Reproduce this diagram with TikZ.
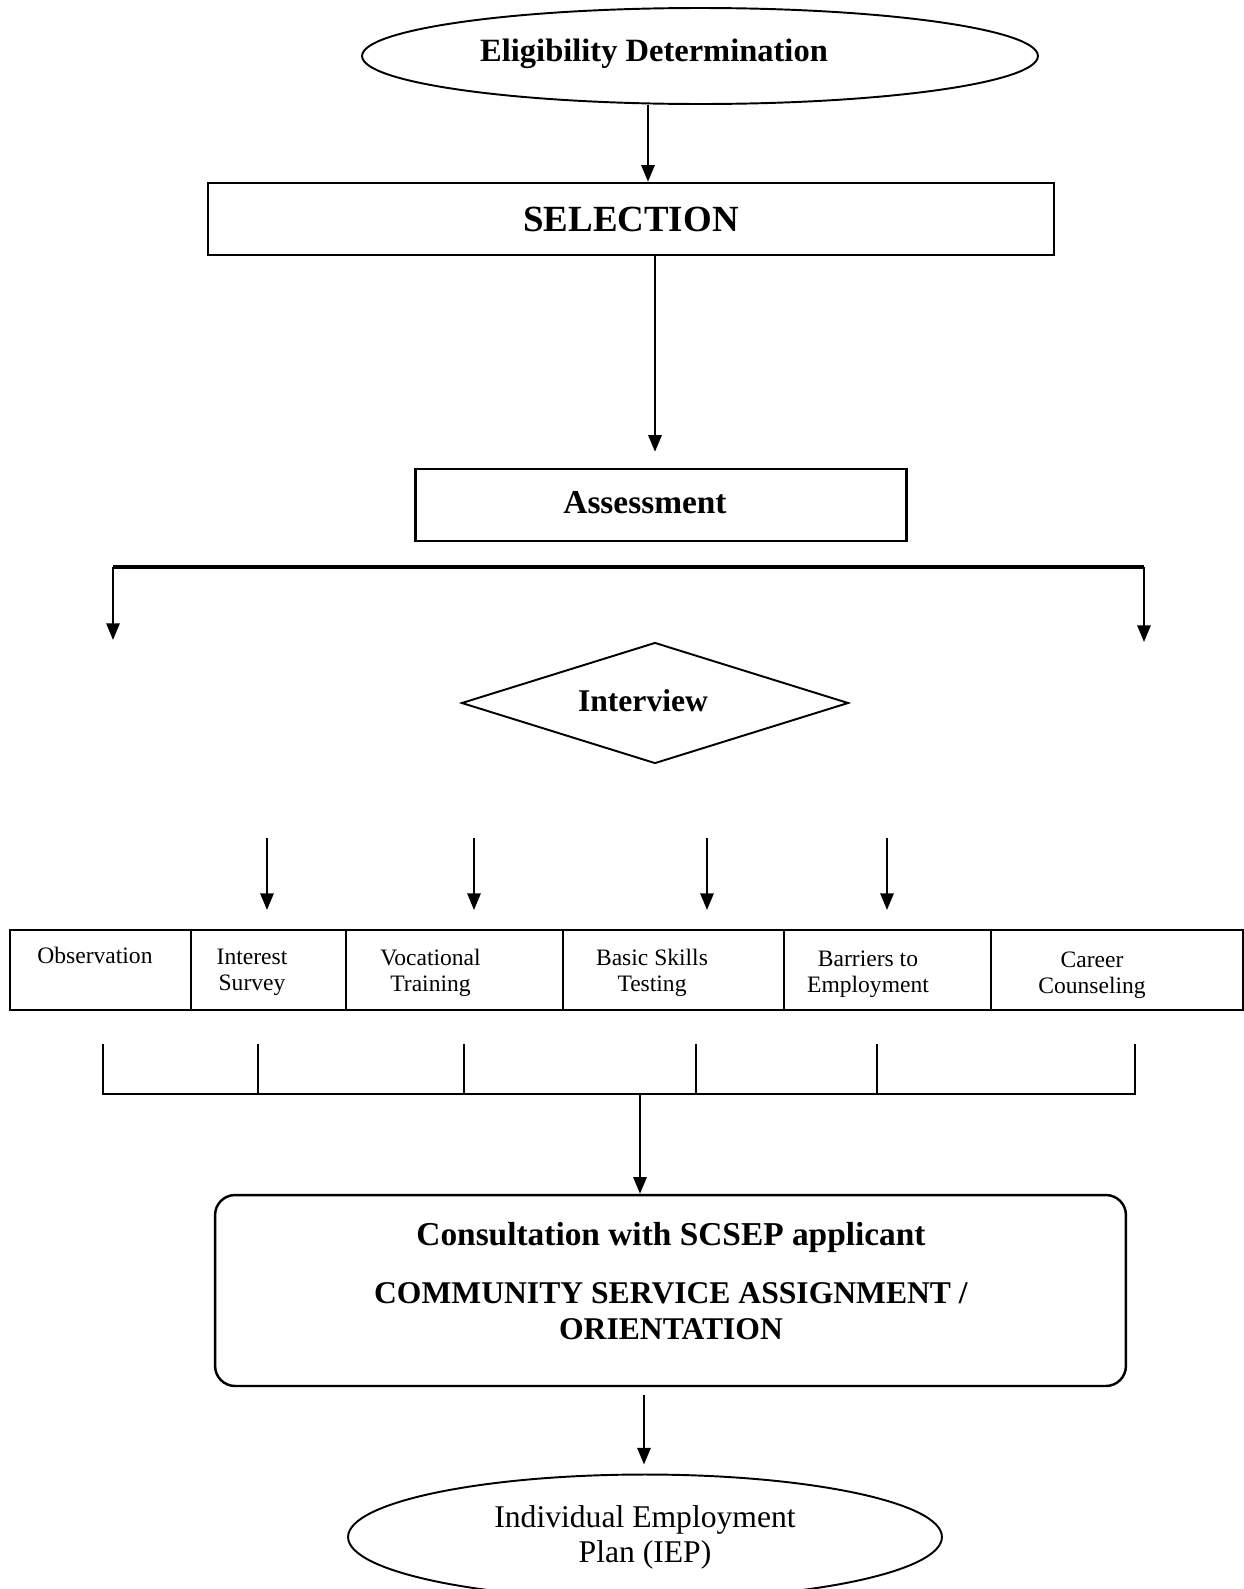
\documentclass[tikz,border=0pt]{standalone}
\usepackage{fontspec}
\setmainfont{Liberation Serif}
\usetikzlibrary{shapes.geometric,arrows.meta}

\begin{document}
\begin{tikzpicture}[x=0.02cm, y=-0.02cm, line width=1.4pt,
  box/.style = {draw, rectangle, inner sep=0pt},
  oval/.style = {draw, ellipse, inner sep=0pt, line width=1.1pt},
  cell/.style = {draw, rectangle, inner sep=0pt, minimum height=1.6cm},
  celltext/.style = {align=center, inner sep=0pt, font=\fontsize{13.4}{14.6}\selectfont},
  head/.style = {inner sep=0pt, font=\bfseries\fontsize{#1}{#1}\selectfont},
  head/.default = 18.5,
  arr/.style = {-{Triangle[length=9.5pt, width=7.5pt]}}]
  \useasboundingbox (0,0) rectangle (1244,1589);

  \node[oval, minimum width=13.52cm, minimum height=1.92cm] (elig) at (700,56) {};
  \node[head]              (eligtext) at (654,54) {Eligibility Determination};
  \node[box, minimum width=16.92cm, minimum height=1.44cm,
        font=\bfseries\fontsize{21}{24}\selectfont] (sel) at (631,219) {SELECTION};
  \node[box, minimum width=9.82cm, minimum height=1.44cm] (assess) at (661,505) {};
  \node[head=19]         (assesstext) at (645,503) {Assessment};

  \node[draw, diamond, inner sep=0pt, line width=1.1pt,
        minimum width=7.74cm, minimum height=2.42cm] (interview) at (655,703) {};
  \node[head=18]      (interviewtext) at (643,701) {Interview};

  \node[cell, minimum width=3.62cm] (obs)  at (100.5,970) {};
  \node[cell, minimum width=3.1cm]  (isur) at (268.5,970) {};
  \node[cell, minimum width=4.34cm] (voc)  at (454.5,970) {};
  \node[cell, minimum width=4.42cm] (bst)  at (673.5,970) {};
  \node[cell, minimum width=4.14cm] (bte)  at (887.5,970) {};
  \node[cell, minimum width=5.04cm] (ccou) at (1117,970)  {};

  \node[celltext] (obstext)  at (95,955)    {Observation};
  \node[celltext] (isurtext) at (252,972)   {Interest\\Survey};
  \node[celltext] (voctext)  at (430.5,973) {Vocational\\Training};
  \node[celltext] (bsttext)  at (652,973)   {Basic Skills\\Testing};
  \node[celltext] (btetext)  at (868,974)   {Barriers to\\Employment};
  \node[celltext] (ccoutext) at (1092,975)  {Career\\Counseling};

  \node[draw, rounded corners=0.4cm, minimum width=18.22cm,
        minimum height=3.82cm] (cons) at (670.5,1290.5) {};
  \node[head=19] (constext) at (671,1237) {Consultation with SCSEP applicant};
  \node[align=center, inner sep=0pt, font=\bfseries\fontsize{18}{20.6}\selectfont]
        (csatext) at (671,1311) {COMMUNITY SERVICE ASSIGNMENT /\\ORIENTATION};

  \node[oval, minimum width=11.88cm, minimum height=2.5cm, align=center,
        font=\fontsize{18}{20}\selectfont] (iep) at (645,1537) {Individual Employment\\Plan (IEP)};

  % arrow columns and free ends
  \coordinate (c1) at (648,0);
  \coordinate (c2) at (655,0);
  \coordinate (c3) at (640,0);
  \coordinate (c4) at (644,0);
  \coordinate (l1) at (113,567);
  \coordinate (r1) at (1144,567);
  \coordinate (l2) at (113,640);
  \coordinate (r2) at (1144,642);
  \coordinate (s1) at (267,838);
  \coordinate (s2) at (474,838);
  \coordinate (s3) at (707,838);
  \coordinate (s4) at (887,838);
  \coordinate (e1) at (267,910);
  \coordinate (e2) at (474,910);
  \coordinate (e3) at (707,910);
  \coordinate (e4) at (887,910);
  \coordinate (t1) at (103,1044);
  \coordinate (t2) at (258,1044);
  \coordinate (t3) at (464,1044);
  \coordinate (t4) at (696,1044);
  \coordinate (t5) at (877,1044);
  \coordinate (t6) at (1135,1044);
  \coordinate (b1) at (103,1094);
  \coordinate (b6) at (1135,1094);

  \draw[arr] (c1 |- elig.south) -- (c1 |- sel.north);
  \draw[arr, shorten >=0.32cm] (c2 |- sel.south) -- (c2 |- assess.north);
  \draw[line width=2pt] (l1) -- (r1);
  \draw[arr] (l1) -- (l2);
  \draw[arr] (r1) -- (r2);
  \draw[arr] (s1) -- (e1);
  \draw[arr] (s2) -- (e2);
  \draw[arr] (s3) -- (e3);
  \draw[arr] (s4) -- (e4);
  \draw (t1) -- (b1) -- (b6) -- (t6)
        (t2) -- (t2 |- b1)
        (t3) -- (t3 |- b1)
        (t4) -- (t4 |- b1)
        (t5) -- (t5 |- b1);
  \draw[arr] (c3 |- b1) -- (c3 |- cons.north);
  \draw[arr, shorten <=0.16cm, shorten >=0.18cm] (c4 |- cons.south) -- (c4 |- iep.north);
\end{tikzpicture}
\end{document}
